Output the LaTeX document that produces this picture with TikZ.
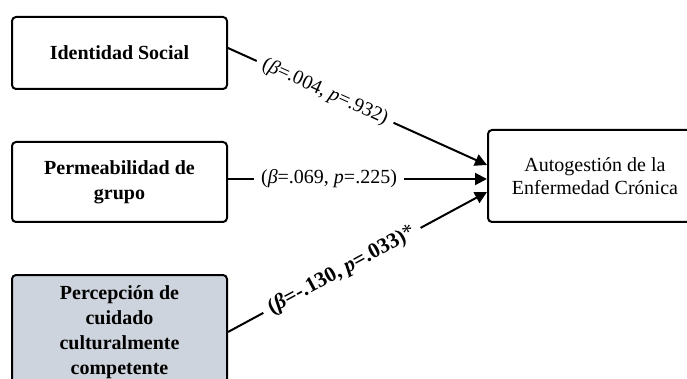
\documentclass[tikz,border=0pt]{standalone}
\usepackage{fontspec}
\setmainfont{Liberation Serif}
\usetikzlibrary{arrows.meta}
\definecolor{boxgray}{RGB}{206,212,221}
\begin{document}
\begin{tikzpicture}[x=1pt,y=-1pt,
  box/.style={draw=black, line width=2pt, rounded corners=4pt, align=center, inner sep=0pt, font=\fontsize{20}{25}\selectfont\bfseries},
  target/.style={draw=black, line width=2pt, rounded corners=4pt, align=center, inner sep=0pt, font=\fontsize{20}{23}\selectfont},
  conn/.style={line width=2pt, -{Triangle[length=12pt,width=12pt]}},
  lbl/.style={fill=white, inner xsep=7pt, inner ysep=2pt, font=\fontsize{20}{24}\selectfont, sloped}
]
\clip (0,0) rectangle (687,379);
\fill[white] (0,0) rectangle (687,379);

\node[box, minimum width=215pt, minimum height=72pt] (is) at (119.5,53) {Identidad Social};
\node[box, minimum width=215pt, minimum height=80pt] (pg) at (119.5,182) {Permeabilidad de\\grupo};
\node[box, fill=boxgray, minimum width=215pt, minimum height=114pt] (pc) at (119.5,332) {Percepción de\\cuidado\\culturalmente\\competente};
\node[target, minimum width=214pt, minimum height=92pt] (ae) at (595,176) {Autogestión de la\\Enfermedad Crónica};

\draw[conn] ([yshift=5pt]is.east) -- node[lbl, pos=0.375] {(\textit{β}=.004, \textit{p}=.932)} ([yshift=11pt]ae.west);
\draw[conn] ([yshift=3pt]pg.east) -- node[lbl, pos=0.39] {(\textit{β}=.069, \textit{p}=.225)} ([yshift=-3pt]ae.west);
\draw[conn] (pc.east) -- node[lbl, pos=0.44, font=\fontsize{21.5}{25}\selectfont] {\textbf{(\textit{β}=-.130, \textit{p}=.033)}\raisebox{1pt}{*}} ([yshift=-16pt]ae.west);
\end{tikzpicture}
\end{document}
